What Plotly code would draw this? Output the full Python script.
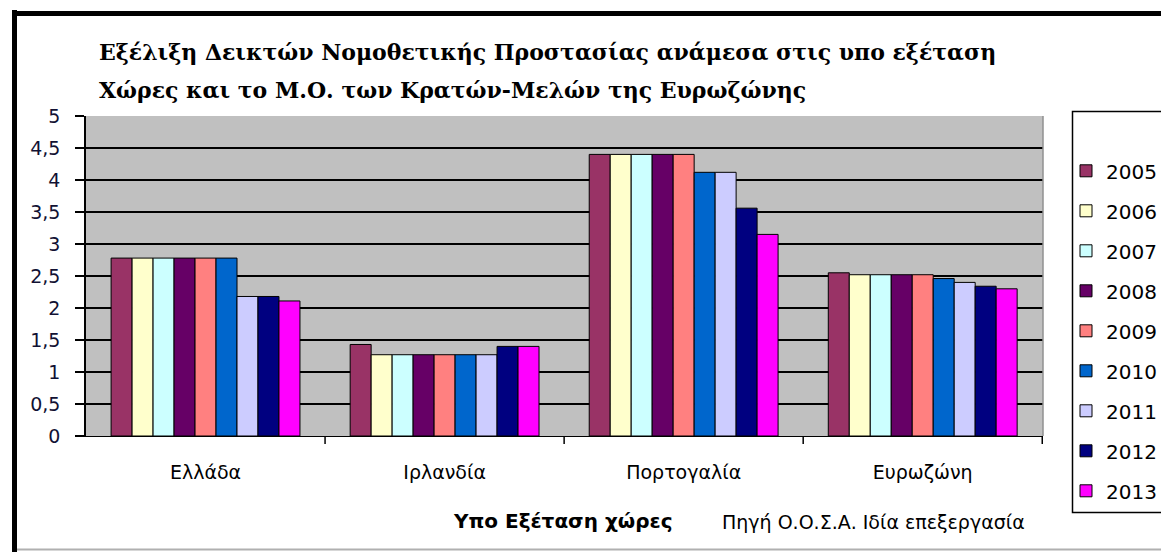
import plotly.graph_objects as go

categories = ["Ελλάδα", "Ιρλανδία", "Πορτογαλία", "Ευρωζώνη"]
years = ["2005", "2006", "2007", "2008", "2009", "2010", "2011", "2012", "2013"]
v2005 = [2.78, 1.43, 4.40, 2.55]
v2006 = [2.78, 1.27, 4.40, 2.52]
v2007 = [2.78, 1.27, 4.40, 2.52]
v2008 = [2.78, 1.27, 4.40, 2.52]
v2009 = [2.78, 1.27, 4.40, 2.52]
v2010 = [2.78, 1.27, 4.12, 2.46]
v2011 = [2.18, 1.27, 4.12, 2.40]
v2012 = [2.18, 1.40, 3.56, 2.34]
v2013 = [2.11, 1.40, 3.15, 2.30]
series = [v2005, v2006, v2007, v2008, v2009, v2010, v2011, v2012, v2013]
colors = ["#993366", "#FFFFCC", "#CCFFFF", "#660066", "#FF8080",
          "#0066CC", "#CCCCFF", "#000080", "#FF00FF"]
y_ticks = [0, 0.5, 1, 1.5, 2, 2.5, 3, 3.5, 4, 4.5, 5]
y_tick_text = ["0", "0,5", "1", "1,5", "2", "2,5", "3", "3,5", "4", "4,5", "5"]

title1 = "Εξέλιξη Δεικτών Νομοθετικής Προστασίας ανάμεσα στις υπο εξέταση"
title2 = "Χώρες και το Μ.Ο. των Κρατών-Μελών της Ευρωζώνης"
x_title = "Υπο Εξέταση χώρες"
source = "Πηγή Ο.Ο.Σ.Α. Ιδία επεξεργασία"

W, H = 1161, 552
L, R, T, B = 86, 1043, 116, 436


def px(x):
    return (x - L) / (R - L)


def py(y):
    return (B - y) / (B - T)


fig = go.Figure()
for yr, vals, col in zip(years, series, colors):
    fig.add_trace(go.Bar(
        x=categories, y=vals, name=yr, legendgroup=yr,
        marker=dict(color=col, line=dict(color="black", width=1)),
    ))

sans = "DejaVu Sans, Liberation Sans, sans-serif"
serif = "DejaVu Serif, Liberation Serif, serif"

fig.update_layout(
    width=W, height=H,
    margin=dict(l=L, r=W - R, t=T, b=H - B, autoexpand=False),
    paper_bgcolor="white",
    plot_bgcolor="#C0C0C0",
    barmode="group",
    bargap=0.21,
    bargroupgap=0,
    showlegend=True,
    legend=dict(
        x=px(1066), y=py(111), xanchor="left", yanchor="top",
        bgcolor="rgba(0,0,0,0)", borderwidth=0,
        font=dict(family=sans, size=20, color="black"),
        tracegroupgap=11,
        title=dict(text=" ", font=dict(size=31)),
        itemwidth=30,
        maxheight=1,
    ),
    xaxis=dict(
        showgrid=False, showline=True, linecolor="black", linewidth=1,
        ticks="outside", ticklen=0, tickfont=dict(family=sans, size=19, color="black"),
        ticklabelstandoff=19,
    ),
    yaxis=dict(
        range=[0, 5], tickvals=y_ticks, ticktext=y_tick_text,
        showgrid=True, gridcolor="black", gridwidth=1.5,
        showline=True, linecolor="black", linewidth=1.5,
        ticks="outside", ticklen=9, tickcolor="black", tickwidth=1.5,
        tickfont=dict(family=sans, size=19, color="#111133"),
        ticklabelstandoff=11,
        zeroline=False,
    ),
)

shapes = []
# category boundary ticks on x axis
for i in range(1, len(categories) + 1):
    shapes.append(dict(type="line", xref="x", yref="paper",
                       x0=i - 0.5, x1=i - 0.5, y0=0, y1=py(B + 8),
                       line=dict(color="black", width=1.5)))
# right border of plot area
shapes.append(dict(type="line", xref="paper", yref="paper", x0=1, x1=1, y0=0, y1=1,
                   line=dict(color="#909090", width=1.5)))
# legend box
shapes.append(dict(type="rect", xref="paper", yref="paper", layer="below",
                   x0=px(1072.5), x1=px(1175), y0=py(111.5), y1=py(512.5),
                   fillcolor="white", line=dict(color="black", width=1.5)))
# outer frame
shapes.append(dict(type="line", xref="paper", yref="paper",
                   x0=px(14.5), x1=px(14.5), y0=py(10), y1=py(552),
                   line=dict(color="black", width=5)))
shapes.append(dict(type="line", xref="paper", yref="paper",
                   x0=px(12), x1=px(1161), y0=py(13.5), y1=py(13.5),
                   line=dict(color="black", width=5)))
shapes.append(dict(type="line", xref="paper", yref="paper",
                   x0=px(17), x1=px(1161), y0=py(549.5), y1=py(549.5),
                   line=dict(color="#B0B0B0", width=2)))
fig.update_layout(shapes=shapes)

annotations = [
    dict(text=title1, x=px(97), y=py(52), xanchor="left", yanchor="middle",
         font=dict(family=serif, size=22, color="black", weight="bold")),
    dict(text=title2, x=px(97), y=py(90), xanchor="left", yanchor="middle",
         font=dict(family=serif, size=22, color="black", weight="bold")),
    dict(text=x_title, x=px(563), y=py(521), xanchor="center", yanchor="middle",
         font=dict(family=sans, size=20, color="black", weight="bold")),
    dict(text=source, x=px(873), y=py(522), xanchor="center", yanchor="middle",
         font=dict(family=sans, size=19, color="black")),
]
for a in annotations:
    a.update(xref="paper", yref="paper", showarrow=False)
fig.update_layout(annotations=annotations)

fig.write_html("out.html", config={"displayModeBar": False},
               post_script="document.body.style.margin='0';")
